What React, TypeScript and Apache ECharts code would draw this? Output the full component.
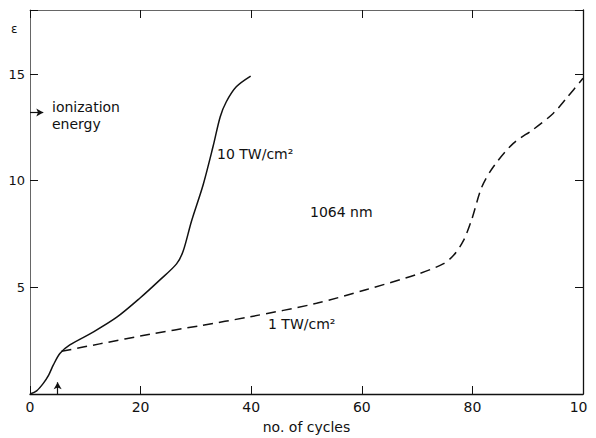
import React, { useEffect, useRef } from "react";
import * as echarts from "echarts";

const xTicks = [0, 20, 40, 60, 80, 100];
const yTicks = [5, 10, 15];

// 10 TW/cm^2 (solid)
const highIntensity: [number, number][] = [
  [0, 0], [1.2, 0.15], [2.4, 0.5], [3.4, 0.9], [4.2, 1.35], [5.4, 1.9], [7.2, 2.3],
  [11.4, 2.9], [15.7, 3.6], [19.9, 4.5], [23.5, 5.35], [26.5, 6.1], [27.7, 6.7],
  [29.2, 8.1], [31.3, 9.8], [33.1, 11.6], [34.4, 13.0], [35.5, 13.7],
  [37.3, 14.4], [39.9, 14.9],
];

// 1 TW/cm^2 (dashed)
const lowIntensity: [number, number][] = [
  [5.7, 2.0], [12.6, 2.35], [21.7, 2.8], [30.7, 3.2], [39.8, 3.62], [51.8, 4.25],
  [60.9, 4.9], [69.9, 5.6], [74.7, 6.1], [76.6, 6.5], [78.4, 7.2], [79.9, 8.2],
  [81.7, 9.7], [83.8, 10.65], [87.4, 11.75], [91, 12.4], [94.6, 13.15],
  [97, 13.86], [100, 14.8],
];

const ionizationEnergy = 13.2;
const startCycle = 5;

const FONT = "DejaVu Sans";

export default function App() {
  const ref = useRef<HTMLDivElement>(null);
  useEffect(() => {
    if (!ref.current) return;
    const chart = echarts.init(ref.current, undefined, { renderer: "svg" });
    const blackLine = { show: true, onZero: false, lineStyle: { color: "#111", width: 1.3 } };
    const greyLine = { show: true, onZero: false, lineStyle: { color: "#666", width: 1 } };
    const tick = { inside: true, length: 8, lineStyle: { color: "#111" } };
    chart.setOption({
      animation: false,
      backgroundColor: "#fff",
      grid: { left: 22, right: 13, top: 2, bottom: 44, containLabel: false, outerBoundsMode: "none" },
      xAxis: [
        {
          type: "value", min: 0, max: 100, interval: 20, position: "bottom",
          name: "no. of cycles", nameLocation: "middle", nameGap: 26,
          nameTextStyle: { fontFamily: FONT, fontSize: 14, color: "#111" },
          axisLine: blackLine, splitLine: { show: false }, axisTick: tick,
          axisLabel: { fontFamily: FONT, fontSize: 14, color: "#111", margin: 6,
            formatter: (v: number) => (xTicks.includes(v) ? String(v) : "") },
        },
        {
          type: "value", min: 0, max: 100, interval: 20, position: "top",
          axisLine: greyLine, splitLine: { show: false }, axisTick: tick,
          axisLabel: { show: false },
        },
      ],
      yAxis: [
        {
          type: "value", min: 0, max: 18, interval: 5, position: "left",
          axisLine: greyLine, splitLine: { show: false }, axisTick: tick,
          axisLabel: { fontFamily: FONT, fontSize: 13, color: "#111", margin: 5,
            formatter: (v: number) => (yTicks.includes(v) ? String(v) : "") },
        },
        {
          type: "value", min: 0, max: 18, interval: 5, position: "right",
          axisLine: blackLine, splitLine: { show: false }, axisTick: tick,
          axisLabel: { show: false },
        },
      ],
      series: [
        {
          type: "line", data: highIntensity, smooth: 0.3, showSymbol: false,
          lineStyle: { color: "#111", width: 1.5 },
          markLine: {
            silent: true, symbol: ["none", "arrow"], symbolSize: [6, 7],
            label: { show: false },
            lineStyle: { color: "#111", width: 1.2, type: "solid" },
            data: [
              [{ coord: [startCycle, 0] }, { coord: [startCycle, 0.55] }],
              [{ coord: [0, ionizationEnergy] }, { coord: [2.4, ionizationEnergy] }],
            ],
          },
        },
        {
          type: "line", data: lowIntensity, smooth: 0.3, showSymbol: false,
          lineStyle: { color: "#111", width: 1.5, type: [10, 6] },
        },
      ],
      graphic: [
        { type: "text", left: 3, top: 15, style: { text: "ε", fontFamily: FONT, fontSize: 12, fill: "#111" } },
        { type: "text", left: 44, top: 90, style: { text: "ionization\nenergy", fontFamily: FONT, fontSize: 14, lineHeight: 17, fill: "#111" } },
        { type: "text", left: 209, top: 139, style: { text: "10 TW/cm²", fontFamily: FONT, fontSize: 14, fill: "#111" } },
        { type: "text", left: 302, top: 197, style: { text: "1064 nm", fontFamily: FONT, fontSize: 14, fill: "#111" } },
        { type: "text", left: 260, top: 309, style: { text: "1 TW/cm²", fontFamily: FONT, fontSize: 14, fill: "#111" } },
      ],
    });
    return () => chart.dispose();
  }, []);
  return <div ref={ref} style={{ width: 588, height: 430 }} />;
}
